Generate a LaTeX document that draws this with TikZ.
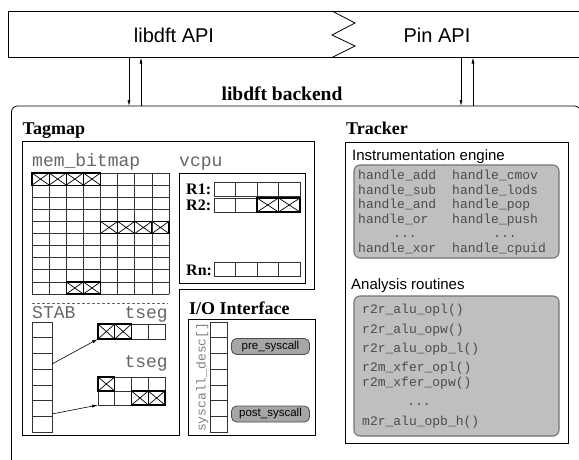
\documentclass[tikz,border=0pt]{standalone}
\usepackage{fontspec}
\setmainfont{Liberation Serif}
\setsansfont{Liberation Sans}
\setmonofont{Liberation Mono}
\usetikzlibrary{arrows.meta}
\tikzset{
  ln/.style={line width=0.8pt, draw=black},
  cellline/.style={line width=0.7pt, draw=black!80},
  xcell/.style={line width=1.2pt, draw=black},
  hdr/.style={font=\fontsize{18}{18}\selectfont\bfseries, inner sep=0pt, anchor=base west},
  apitext/.style={font=\sffamily\fontsize{20}{20}\selectfont, inner sep=0pt, anchor=base},
  monolbl/.style={font=\ttfamily\fontsize{18}{18}\selectfont, text=black!60, inner sep=0pt, anchor=base west},
  code/.style={font=\ttfamily\fontsize{13}{13}\selectfont, text=black!70, inner sep=0pt, anchor=base west},
  subhdr/.style={font=\sffamily\fontsize{15}{15}\selectfont, inner sep=0pt, anchor=base west},
  graybox/.style={rounded corners=6pt, fill=black!25, draw=black!55, line width=1.1pt},
  btn/.style={rounded corners=5pt, fill=black!35, draw=black!70, line width=0.8pt, font=\sffamily\fontsize{11.5}{11.5}\selectfont, minimum width=78pt, minimum height=16pt, inner sep=0pt},
  tiparrow/.style={-{Latex[length=6pt,width=3pt]}, line width=0.6pt},
  reglbl/.style={font=\fontsize{16}{16}\selectfont\bfseries, inner sep=0pt, anchor=base west},
}
\newcommand\mkxcell[4]{%
  \draw[xcell] ({#1},{#2}) rectangle ({#3},{#4});
  \draw[line width=0.7pt] ({#1},{#2}) -- ({#3},{#4}) ({#1},{#4}) -- ({#3},{#2});}
\begin{document}
\begin{tikzpicture}[x=1pt,y=-1pt]
\useasboundingbox (0,0) rectangle (579,459);
\begin{scope}
\clip (0,0) rectangle (579,459);
% API bar
\draw[ln] (8,11) rectangle (600,57.5);
\draw[ln] (332,11) -- (355,23) -- (332,35) -- (355,46) -- (332,57.5);
\node[apitext] (libapi) at (174,42.5) {libdft API};
\node[apitext] (pinapi) at (437,42.5) {Pin API};
% backend
\draw[ln, rounded corners=6pt] (11.5,106) rectangle (580.5,480);
\node[font=\fontsize{19.5}{19.5}\selectfont\bfseries, inner sep=0pt, anchor=base] (backend) at (282,100) {libdft backend};
\coordinate (a1t) at (129,57.5); \coordinate (a1b) at (129,106);
\coordinate (a2t) at (141,57.5); \coordinate (a2b) at (141,106);
\coordinate (a3t) at (461,57.5); \coordinate (a3b) at (461,106);
\coordinate (a4t) at (473,57.5); \coordinate (a4b) at (473,106);
\draw[tiparrow] (a1t) -- (a1b);
\draw[tiparrow] (a2b) -- (a2t);
\draw[tiparrow] (a3t) -- (a3b);
\draw[tiparrow] (a4b) -- (a4t);
% Tagmap
\node[hdr] (tagmap) at (22.5,134) {Tagmap};
\draw[ln] (22.5,141) -- (314,141) -- (314,289) -- (179,289) -- (179,435) -- (22.5,435) -- cycle;
\node[monolbl] (membitmap) at (32,166.5) {mem\_bitmap};
\node[monolbl] (vcpulbl) at (179,166.5) {vcpu};
\foreach \i in {0,...,8} \draw[cellline] ({32+\i*17.125},173) -- ({32+\i*17.125},294);
\foreach \j in {0,...,10} \draw[cellline] (32,{173+\j*12.1}) -- (169,{173+\j*12.1});
\foreach \c in {1,...,4} {\mkxcell{32+(\c-1)*17.125}{173}{32+\c*17.125}{185.1}}
\foreach \c in {5,...,8} {\mkxcell{32+(\c-1)*17.125}{221.4}{32+\c*17.125}{233.5}}
\foreach \c in {3,4} {\mkxcell{32+(\c-1)*17.125}{281.9}{32+\c*17.125}{294}}
% vcpu
\draw[ln] (179,173) rectangle (305,283);
\node[reglbl] (r1) at (186,194.5) {R1:};
\node[reglbl] (r2) at (186,210) {R2:};
\node[reglbl] (rn) at (186,275) {Rn:};
\foreach \y in {182,198,262} {
  \draw[cellline] (214,\y) rectangle (300,\y+14);
  \foreach \i in {1,2,3} \draw[cellline] ({214+\i*21.5},\y) -- ({214+\i*21.5},\y+14);
}
\mkxcell{257}{198}{278.5}{212}
\mkxcell{278.5}{198}{300}{212}
% STAB
\draw[black!60, dashed, line width=0.8pt, dash pattern=on 3pt off 2pt] (32,303) -- (168,303);
\node[monolbl] (stab) at (32,318) {STAB};
\node[monolbl, anchor=base east] (tseg1) at (168,318) {tseg};
\node[monolbl, anchor=base east] (tseg2) at (168,367) {tseg};
\draw[cellline] (32,322) rectangle (52,432);
\foreach \j in {1,...,6} \draw[cellline] (32,{322+\j*15.714}) -- (52,{322+\j*15.714});
\draw[cellline] (98,324) rectangle (165,339);
\foreach \i in {1,2,3} \draw[cellline] ({98+\i*16.75},324) -- ({98+\i*16.75},339);
\mkxcell{98}{324}{114.75}{339}
\mkxcell{114.75}{324}{131.5}{339}
\draw[cellline] (98,377) rectangle (165,405);
\draw[cellline] (98,391) -- (165,391);
\foreach \i in {1,2,3} \draw[cellline] ({98+\i*16.75},377) -- ({98+\i*16.75},405);
\mkxcell{98}{377}{114.75}{391}
\mkxcell{131.5}{391}{148.25}{405}
\mkxcell{148.25}{391}{165}{405}
\coordinate (s1) at (52,364); \coordinate (t1) at (98,339);
\coordinate (s2) at (52,414); \coordinate (t2) at (98,405);
\draw[tiparrow] (s1) -- (t1);
\draw[tiparrow] (s2) -- (t2);
% I/O interface
\node[hdr] (io) at (189,314) {I/O Interface};
\draw[ln] (188,319) rectangle (315,435);
\draw[cellline] (210,322) rectangle (227,432);
\foreach \j in {1,...,6} \draw[cellline] (210,{322+\j*15.714}) -- (227,{322+\j*15.714});
\node[font=\ttfamily\fontsize{13}{13}\selectfont, text=black!50, rotate=90, anchor=base west, inner sep=0pt] (sdesc) at (205.5,432) {syscall\_desc[]};
\node[btn] (pre) at (270.5,346.5) {pre\_syscall};
\node[btn] (post) at (270.5,414) {post\_syscall};
% Tracker
\node[hdr] (tracker) at (346,134) {Tracker};
\draw[ln] (345,142) rectangle (568,443);
\node[subhdr] (ieng) at (352,160) {Instrumentation engine};
\draw[graybox] (354,165) rectangle (559,258);
\node[code] at (358,179) {handle\_add};
\node[code] at (358,194) {handle\_sub};
\node[code] at (358,208) {handle\_and};
\node[code] at (358,223) {handle\_or};
\node[code] at (393,237) {...};
\node[code] at (358,252) {handle\_xor};
\node[code] at (452,179) {handle\_cmov};
\node[code] at (452,194) {handle\_lods};
\node[code] at (452,208) {handle\_pop};
\node[code] at (452,223) {handle\_push};
\node[code] at (493,237) {...};
\node[code] at (452,252) {handle\_cpuid};
\node[subhdr] (anal) at (351,289) {Analysis routines};
\draw[graybox] (354,296) rectangle (559,436);
\node[code] at (362,313) {r2r\_alu\_opl()};
\node[code] at (362,333) {r2r\_alu\_opw()};
\node[code] at (362,352) {r2r\_alu\_opb\_l()};
\node[code] at (362,371) {r2m\_xfer\_opl()};
\node[code] at (362,386) {r2m\_xfer\_opw()};
\node[code] at (407,405) {...};
\node[code] at (362,425) {m2r\_alu\_opb\_h()};
\end{scope}
\end{tikzpicture}
\end{document}
